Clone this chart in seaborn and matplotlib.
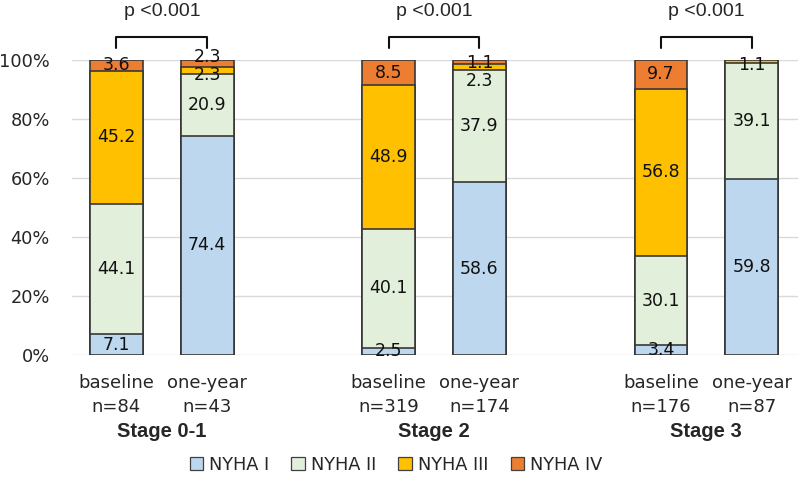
import seaborn as sns
import matplotlib.pyplot as plt
from matplotlib.patches import Patch
import matplotlib.transforms as mtransforms
import pandas as pd

stages = ['Stage 0-1', 'Stage 2', 'Stage 3']
timepoints = ['baseline', 'one-year']
n_counts = [84, 43, 319, 174, 176, 87]
classes = ['NYHA I', 'NYHA II', 'NYHA III', 'NYHA IV']
nyha_1 = [7.1, 74.4, 2.5, 58.6, 3.4, 59.8]
nyha_2 = [44.1, 20.9, 40.1, 37.9, 30.1, 39.1]
nyha_3 = [45.2, 2.3, 48.9, 2.3, 56.8, 1.1]
nyha_4 = [3.6, 2.3, 8.5, 1.1, 9.7, 0.0]
p_values = ['p <0.001', 'p <0.001', 'p <0.001']

colors = ['#BDD7EE', '#E2EFDA', '#FFC000', '#ED7D31']
xpos = [0, 1, 3, 4, 6, 7]

sns.set_style('white')
plt.rcParams['font.family'] = ['DejaVu Sans']
ARIAL = ['Liberation Sans', 'DejaVu Sans']

fig = plt.figure(figsize=(8, 4.84), dpi=100)
ax = fig.add_axes([0.09, 0.2665, 0.9075, 0.6095])

layers = [nyha_1, nyha_2, nyha_3, nyha_4]
cum = []
run = [0.0] * 6
for layer in layers:
    run = [r + v for r, v in zip(run, layer)]
    cum.append(run)

# draw cumulative bars from the top layer down (stacked look)
for k in range(3, -1, -1):
    df = pd.DataFrame({'x': xpos, 'y': cum[k]})
    sns.barplot(data=df, x='x', y='y', native_scale=True, width=0.58,
                color=colors[k], saturation=1, edgecolor='#383838',
                linewidth=1.2, ax=ax, zorder=3)

# segment labels
nudges = {(1, 3): 2.2, (1, 2): -1.6, (3, 3): -0.4, (3, 2): -4.6, (5, 2): -1.1}
for i, x in enumerate(xpos):
    base = 0.0
    for k, layer in enumerate(layers):
        v = layer[i]
        if v > 0:
            y = base + v / 2 + nudges.get((i, k), 0)
            ax.text(x, y, f'{v:.1f}', ha='center', va='center',
                    fontsize=12.5, color='#111111', zorder=5)
        base += v

ax.set_xlim(-0.49, 7.51)
ax.set_ylim(0, 100)
ax.set_yticks(range(0, 101, 20))
ax.set_yticklabels([f'{t}%' for t in range(0, 101, 20)], fontsize=12.8)
ax.yaxis.grid(True, color='#D9D9D9', linewidth=1)
ax.set_axisbelow(True)
ax.set_xticks([])
ax.set_xlabel('')
ax.set_ylabel('')
ax.tick_params(axis='y', length=0, pad=16)
for s in ax.spines.values():
    s.set_visible(False)

trans = mtransforms.blended_transform_factory(ax.transData, ax.transAxes)
for i, x in enumerate(xpos):
    ax.text(x, -0.095, timepoints[i % 2], transform=trans, ha='center',
            va='center', fontsize=13)
    ax.text(x, -0.175, f'n={n_counts[i]}', transform=trans, ha='center',
            va='center', fontsize=13)

for g, stage in enumerate(stages):
    x0, x1 = xpos[2 * g], xpos[2 * g + 1]
    ax.text((x0 + x1) / 2, -0.26, stage, transform=trans, ha='center',
            va='center', fontsize=14.5, fontweight='bold', family=ARIAL)
    ax.plot([x0, x0, x1, x1], [104.1, 107.8, 107.8, 104.1], color='#111111',
            linewidth=1.5, clip_on=False)
    ax.text((x0 + x1) / 2, 116.3, p_values[g], ha='center', va='center',
            fontsize=14, family=ARIAL)

handles = [Patch(facecolor=c, edgecolor='#404040', linewidth=0.9) for c in colors]
fig.legend(handles, classes, loc='center', bbox_to_anchor=(0.495, 1 - 465 / 484),
           ncol=4, frameon=False, fontsize=12.8, handlelength=0.75, handleheight=0.75,
           handletextpad=0.35, columnspacing=1.25)

fig.savefig('out.png', dpi=100)
